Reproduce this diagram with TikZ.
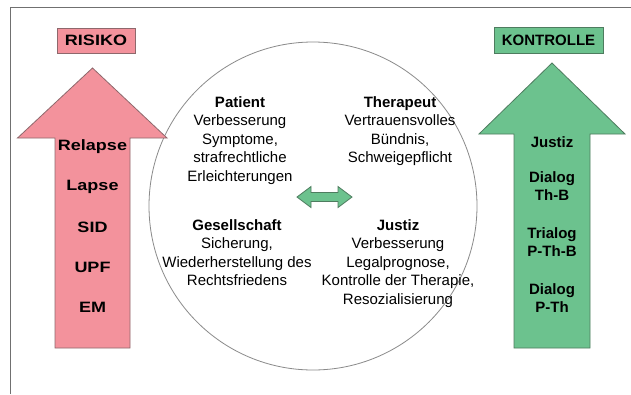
\documentclass[tikz,border=0pt]{standalone}
\usepackage{fontspec}
\setmainfont{Liberation Sans}
\newfontfamily\widefont[FakeStretch=1.2]{Liberation Sans}
\definecolor{pinkfill}{HTML}{F3929C}
\definecolor{pinkline}{HTML}{8E686C}
\definecolor{greenfill}{HTML}{6CC28E}
\definecolor{greenline}{HTML}{4E7C5F}
\definecolor{frameline}{HTML}{707070}
\definecolor{circline}{HTML}{8A8A8A}
\tikzset{
  txt/.style={inner sep=0pt, align=center, font=\fontsize{15}{18.4}\selectfont},
  lbl/.style={inner sep=0pt, align=center, anchor=base, font=\fontsize{15}{17.8}\selectfont\bfseries},
  wlbl/.style={inner sep=0pt, align=center, anchor=base, font=\fontsize{15}{17.8}\selectfont\widefont\bfseries},
  pinkshape/.style={fill=pinkfill, draw=pinkline, line width=0.8pt},
  greenshape/.style={fill=greenfill, draw=greenline, line width=0.8pt},
}
\begin{document}
\begin{tikzpicture}[x=1pt,y=-1pt]
\useasboundingbox (0,0) rectangle (631,394);
\fill[white] (0,0) rectangle (631,394);
% frame
\draw[frameline, line width=1pt] (10,394) -- (10,7) -- (631,7);
% circle
\node[circle, draw=circline, line width=0.8pt, minimum size=328pt, inner sep=0pt] (circ) at (313,206) {};
% left arrow
\draw[pinkshape] (55,348) -- (55,138) -- (17.5,138) -- (92.5,68) -- (167,138) -- (130,138) -- (130,348) -- cycle;
% right arrow
\draw[greenshape] (514,348) -- (514,134) -- (479,134) -- (552,63) -- (625,134) -- (590,134) -- (590,348) -- cycle;
% boxes
\node[pinkshape, minimum width=78pt, minimum height=25pt, inner sep=0pt, font=\fontsize{15}{18}\selectfont\widefont\bfseries] (risiko) at (96,40.5) {RISIKO};
\node[greenshape, minimum width=109pt, minimum height=26pt, inner sep=0pt, font=\fontsize{15}{18}\selectfont\bfseries] (kontrolle) at (548.5,40) {KONTROLLE};
% left labels
\node[wlbl] (relapse) at (92.5,150.5) {Relapse};
\node[wlbl] (lapse) at (92.5,190.5) {Lapse};
\node[wlbl] (sid) at (92.5,232.5) {SID};
\node[wlbl] (upf) at (92.5,272.5) {UPF};
\node[wlbl] (em) at (92.5,312.5) {EM};
% right labels
\node[lbl] (justizr) at (552,147.5) {Justiz};
\node[lbl] (dialog1) at (552,200.5) {Dialog\\Th-B};
\node[lbl] (trialog) at (552,256.5) {Trialog\\P-Th-B};
\node[lbl] (dialog2) at (552,312.5) {Dialog\\P-Th};
% circle texts
\node[txt, anchor=north] (patient) at (240,96.5) {\textbf{Patient}\\Verbesserung\\Symptome,\\strafrechtliche\\Erleichterungen};
\node[txt, anchor=north] (therapeut) at (400,96.5) {\textbf{Therapeut}\\Vertrauensvolles\\Bündnis,\\Schweigepflicht};
\node[txt, anchor=north] (gesellschaft) at (237,219.5) {\textbf{Gesellschaft}\\Sicherung,\\Wiederherstellung des\\Rechtsfriedens};
\node[txt, anchor=north] (justiz) at (398,219.5) {\textbf{Justiz}\\Verbesserung\\Legalprognose,\\Kontrolle der Therapie,\\Resozialisierung};
% double arrow
\draw[greenshape] (297,197) -- (311,186.5) -- (311,192.5) -- (338,192.5) -- (338,186.5) -- (352,197) -- (338,207.5) -- (338,201.5) -- (311,201.5) -- (311,207.5) -- cycle;
\end{tikzpicture}
\end{document}
